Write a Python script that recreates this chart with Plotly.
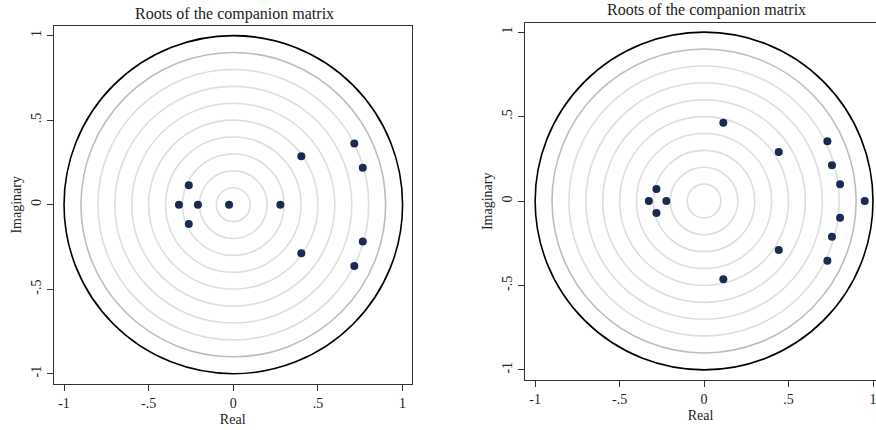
import plotly.graph_objects as go

# Data: roots (real, imaginary)
left_real = [0.715, 0.715, 0.765, 0.765, 0.402, 0.402, -0.263, -0.263, -0.321, -0.209, -0.025, 0.278]
left_imag = [0.362, -0.362, 0.218, -0.218, 0.287, -0.287, 0.115, -0.115, 0.0, 0.0, 0.0, 0.0]

right_real = [0.114, 0.114, 0.442, 0.442, 0.730, 0.730, 0.757, 0.757, 0.805, 0.805, 0.951, -0.282, -0.282, -0.327, -0.223]
right_imag = [0.463, -0.463, 0.290, -0.290, 0.354, -0.354, 0.212, -0.212, 0.099, -0.099, 0.0, 0.071, -0.071, 0.0, 0.0]

grid_radii = [0.1, 0.2, 0.3, 0.4, 0.5, 0.6, 0.7, 0.8]
outer_grid_radius = 0.9
unit_radius = 1.0

tick_vals = [-1, -0.5, 0, 0.5, 1]
tick_text = ["-1", "-.5", "0", ".5", "1"]

title_text = "Roots of the companion matrix"
FONT = "Liberation Serif, Times New Roman, serif"
MARKER = "#1a2a55"
TXT = "#222222"

W, H = 876, 430


def py(p):  # pixel row (from top) -> paper fraction
    return 1 - p / H


fig = go.Figure()
fig.add_trace(go.Scatter(x=left_real, y=left_imag, mode="markers",
                         marker=dict(color=MARKER, size=8), xaxis="x", yaxis="y",
                         showlegend=False))
fig.add_trace(go.Scatter(x=right_real, y=right_imag, mode="markers",
                         marker=dict(color=MARKER, size=8), xaxis="x2", yaxis="y2",
                         showlegend=False))

shapes = []
for xr, yr in (("x", "y"), ("x2", "y2")):
    for r in grid_radii:
        shapes.append(dict(type="circle", xref=xr, yref=yr, x0=-r, x1=r, y0=-r, y1=r,
                           line=dict(color="#dedede", width=1.6), layer="below"))
    r = outer_grid_radius
    shapes.append(dict(type="circle", xref=xr, yref=yr, x0=-r, x1=r, y0=-r, y1=r,
                       line=dict(color="#bdbdbd", width=1.6), layer="below"))
    r = unit_radius
    shapes.append(dict(type="circle", xref=xr, yref=yr, x0=-r, x1=r, y0=-r, y1=r,
                       line=dict(color="#000000", width=1.6), layer="below"))


def ax(domain, rng, title, anchor, mirror, angle=0):
    return dict(domain=domain, range=rng, anchor=anchor, showgrid=False, zeroline=False,
                showline=True, linecolor="#333333", linewidth=1.2, mirror=mirror,
                ticks="outside", ticklen=6, tickwidth=1, tickcolor="#333333",
                tickvals=tick_vals, ticktext=tick_text, tickangle=angle,
                ticklabeloverflow="allow",
                tickfont=dict(family=FONT, size=14, color=TXT),
                title=dict(text=title, font=dict(family=FONT, size=14, color=TXT), standoff=4),
                fixedrange=True)


fig.update_layout(
    width=W, height=H,
    margin=dict(l=0, r=0, t=0, b=0),
    paper_bgcolor="white", plot_bgcolor="white",
    font=dict(family=FONT),
    xaxis=ax([53.7 / W, 411.7 / W], [-1.061, 1.054], "Real", "y", True),
    yaxis=ax([py(383.7), py(26)], [-1.059, 1.057], "Imaginary", "x", True, -90),
    xaxis2=ax([525 / W, 1.0], [-1.06, (876 - 704) / 169.0], "Real", "y2", True),
    yaxis2=ax([py(380), py(22.7)], [-1.06, 1.056], "Imaginary", "x2", False, -90),
    shapes=shapes,
    annotations=[
        dict(text=title_text, x=234 / W, y=py(14), xref="paper", yref="paper",
             showarrow=False, font=dict(family=FONT, size=16, color=TXT),
             xanchor="center", yanchor="middle"),
        dict(text=title_text, x=706 / W, y=py(10), xref="paper", yref="paper",
             showarrow=False, font=dict(family=FONT, size=16, color=TXT),
             xanchor="center", yanchor="middle"),
    ],
)

fig.write_html("out.html")
